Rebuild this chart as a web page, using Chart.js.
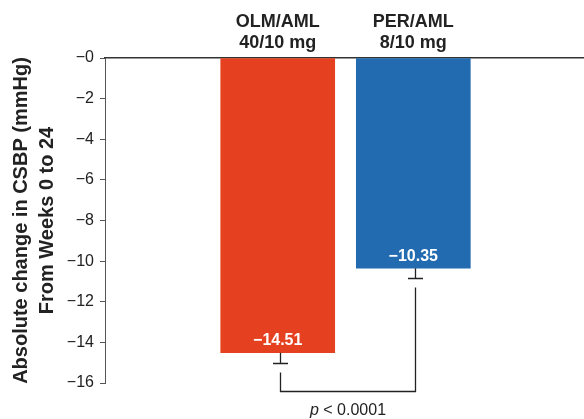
<!DOCTYPE html>
<html>
<head>
<meta charset="utf-8">
<script src="https://cdn.jsdelivr.net/npm/chart.js@4/dist/chart.umd.min.js"></script>
<style>
  html, body { margin: 0; padding: 0; background: #fff; }
  #wrap { width: 584px; height: 419px; position: relative; }
</style>
</head>
<body>
<div id="wrap"><canvas id="c" width="584" height="419"></canvas></div>
<script>
// Treatment groups and mean change in CSBP (mmHg), weeks 0 to 24
const groups = [['OLM/AML', '40/10 mg'], ['PER/AML', '8/10 mg']];
const changes = [-14.51, -10.35];
const errors = [0.5, 0.5];
const barColors = ['#e5401f', '#226bb1'];
const yTicks = [0, -2, -4, -6, -8, -10, -12, -14, -16];
const pText = '< 0.0001';

const MINUS = '\u2212';
const fam = '"Liberation Sans", Arial, Helvetica, sans-serif';

const points = changes.map((v, i) => ({ x: i, y: v }));

const overlay = {
  id: 'overlay',
  afterDatasetsDraw(chart) {
    const ctx = chart.ctx;
    const xs = chart.scales.x, ys = chart.scales.y;
    const area = chart.chartArea;
    const capTops = [];
    ctx.save();
    // error bars (lower half only)
    ctx.strokeStyle = '#222';
    ctx.lineWidth = 1.3;
    changes.forEach((v, i) => {
      const cx = Math.round(xs.getPixelForValue(i)) + 2.5;
      const y0 = ys.getPixelForValue(v);
      const y1 = Math.round(ys.getPixelForValue(v - errors[i])) + 0.5;
      ctx.beginPath();
      ctx.moveTo(cx, y0);
      ctx.lineTo(cx, y1);
      ctx.moveTo(cx - 7.5, y1);
      ctx.lineTo(cx + 7.5, y1);
      ctx.stroke();
      capTops.push({ x: cx, y: y1 });
    });
    // significance bracket
    const yb = area.bottom + 8.5;
    ctx.beginPath();
    ctx.moveTo(capTops[0].x, capTops[0].y + 9);
    ctx.lineTo(capTops[0].x, yb);
    ctx.lineTo(capTops[1].x, yb);
    ctx.lineTo(capTops[1].x, capTops[1].y + 9);
    ctx.stroke();
    // p value
    const midX = (capTops[0].x + capTops[1].x) / 2;
    ctx.fillStyle = '#222';
    ctx.textBaseline = 'middle';
    ctx.font = 'italic 16px ' + fam;
    const pw = ctx.measureText('p').width;
    ctx.font = '16px ' + fam;
    const rest = ' ' + pText;
    const rw = ctx.measureText(rest).width;
    const sx = midX - (pw + rw) / 2;
    const ty = yb + 19;
    ctx.font = 'italic 16px ' + fam;
    ctx.textAlign = 'left';
    ctx.fillText('p', sx, ty);
    ctx.font = '16px ' + fam;
    ctx.fillText(rest, sx + pw, ty);
    // value labels inside bars
    ctx.fillStyle = '#ffffff';
    ctx.textAlign = 'center';
    ctx.font = 'bold 16px ' + fam;
    changes.forEach((v, i) => {
      const cx = xs.getPixelForValue(i);
      const yb2 = ys.getPixelForValue(v);
      ctx.fillText(MINUS + Math.abs(v).toFixed(2), cx, yb2 - 12);
    });
    ctx.restore();
  }
};

new Chart(document.getElementById('c'), {
  type: 'bar',
  data: {
    datasets: [{
      data: points,
      backgroundColor: barColors,
      borderWidth: 0,
      barThickness: 114
    }]
  },
  options: {
    responsive: false,
    animation: false,
    events: [],
    layout: { padding: { left: 0, right: 0, top: 0, bottom: 36 } },
    plugins: { legend: { display: false }, tooltip: { enabled: false } },
    scales: {
      x: {
        type: 'linear',
        position: 'top',
        offset: false,
        min: -1.274,
        max: 2.259,
        afterBuildTicks(scale) { scale.ticks = groups.map((g, i) => ({ value: i })); },
        afterFit(scale) { scale.height = 58; },
        grid: { display: false, offset: false },
        border: { display: true, color: '#333', width: 1.5 },
        ticks: {
          autoSkip: false,
          maxRotation: 0,
          padding: -3,
          color: '#222',
          font: { family: fam, size: 18, weight: 'bold', lineHeight: 1.15 },
          callback: (v) => groups[v] || ''
        }
      },
      y: {
        min: -16,
        max: 0,
        afterBuildTicks(scale) { scale.ticks = yTicks.map(v => ({ value: v })); },
        afterFit(scale) { scale.width = 105; },
        grid: { display: true, drawOnChartArea: false, drawTicks: true, tickLength: 5, color: '#555', lineWidth: 1 },
        border: { display: true, color: '#555', width: 1 },
        ticks: {
          padding: 6,
          color: '#222',
          font: { family: fam, size: 16 },
          callback: (v) => MINUS + Math.abs(v)
        },
        title: {
          display: true,
          text: ['Absolute change in CSBP (mmHg)', 'From Weeks 0 to 24'],
          color: '#222',
          font: { family: fam, size: 20, weight: 'bold', lineHeight: 1.3 },
          padding: { top: 8, bottom: 4 }
        }
      }
    }
  },
  plugins: [overlay]
});
</script>
</body>
</html>
